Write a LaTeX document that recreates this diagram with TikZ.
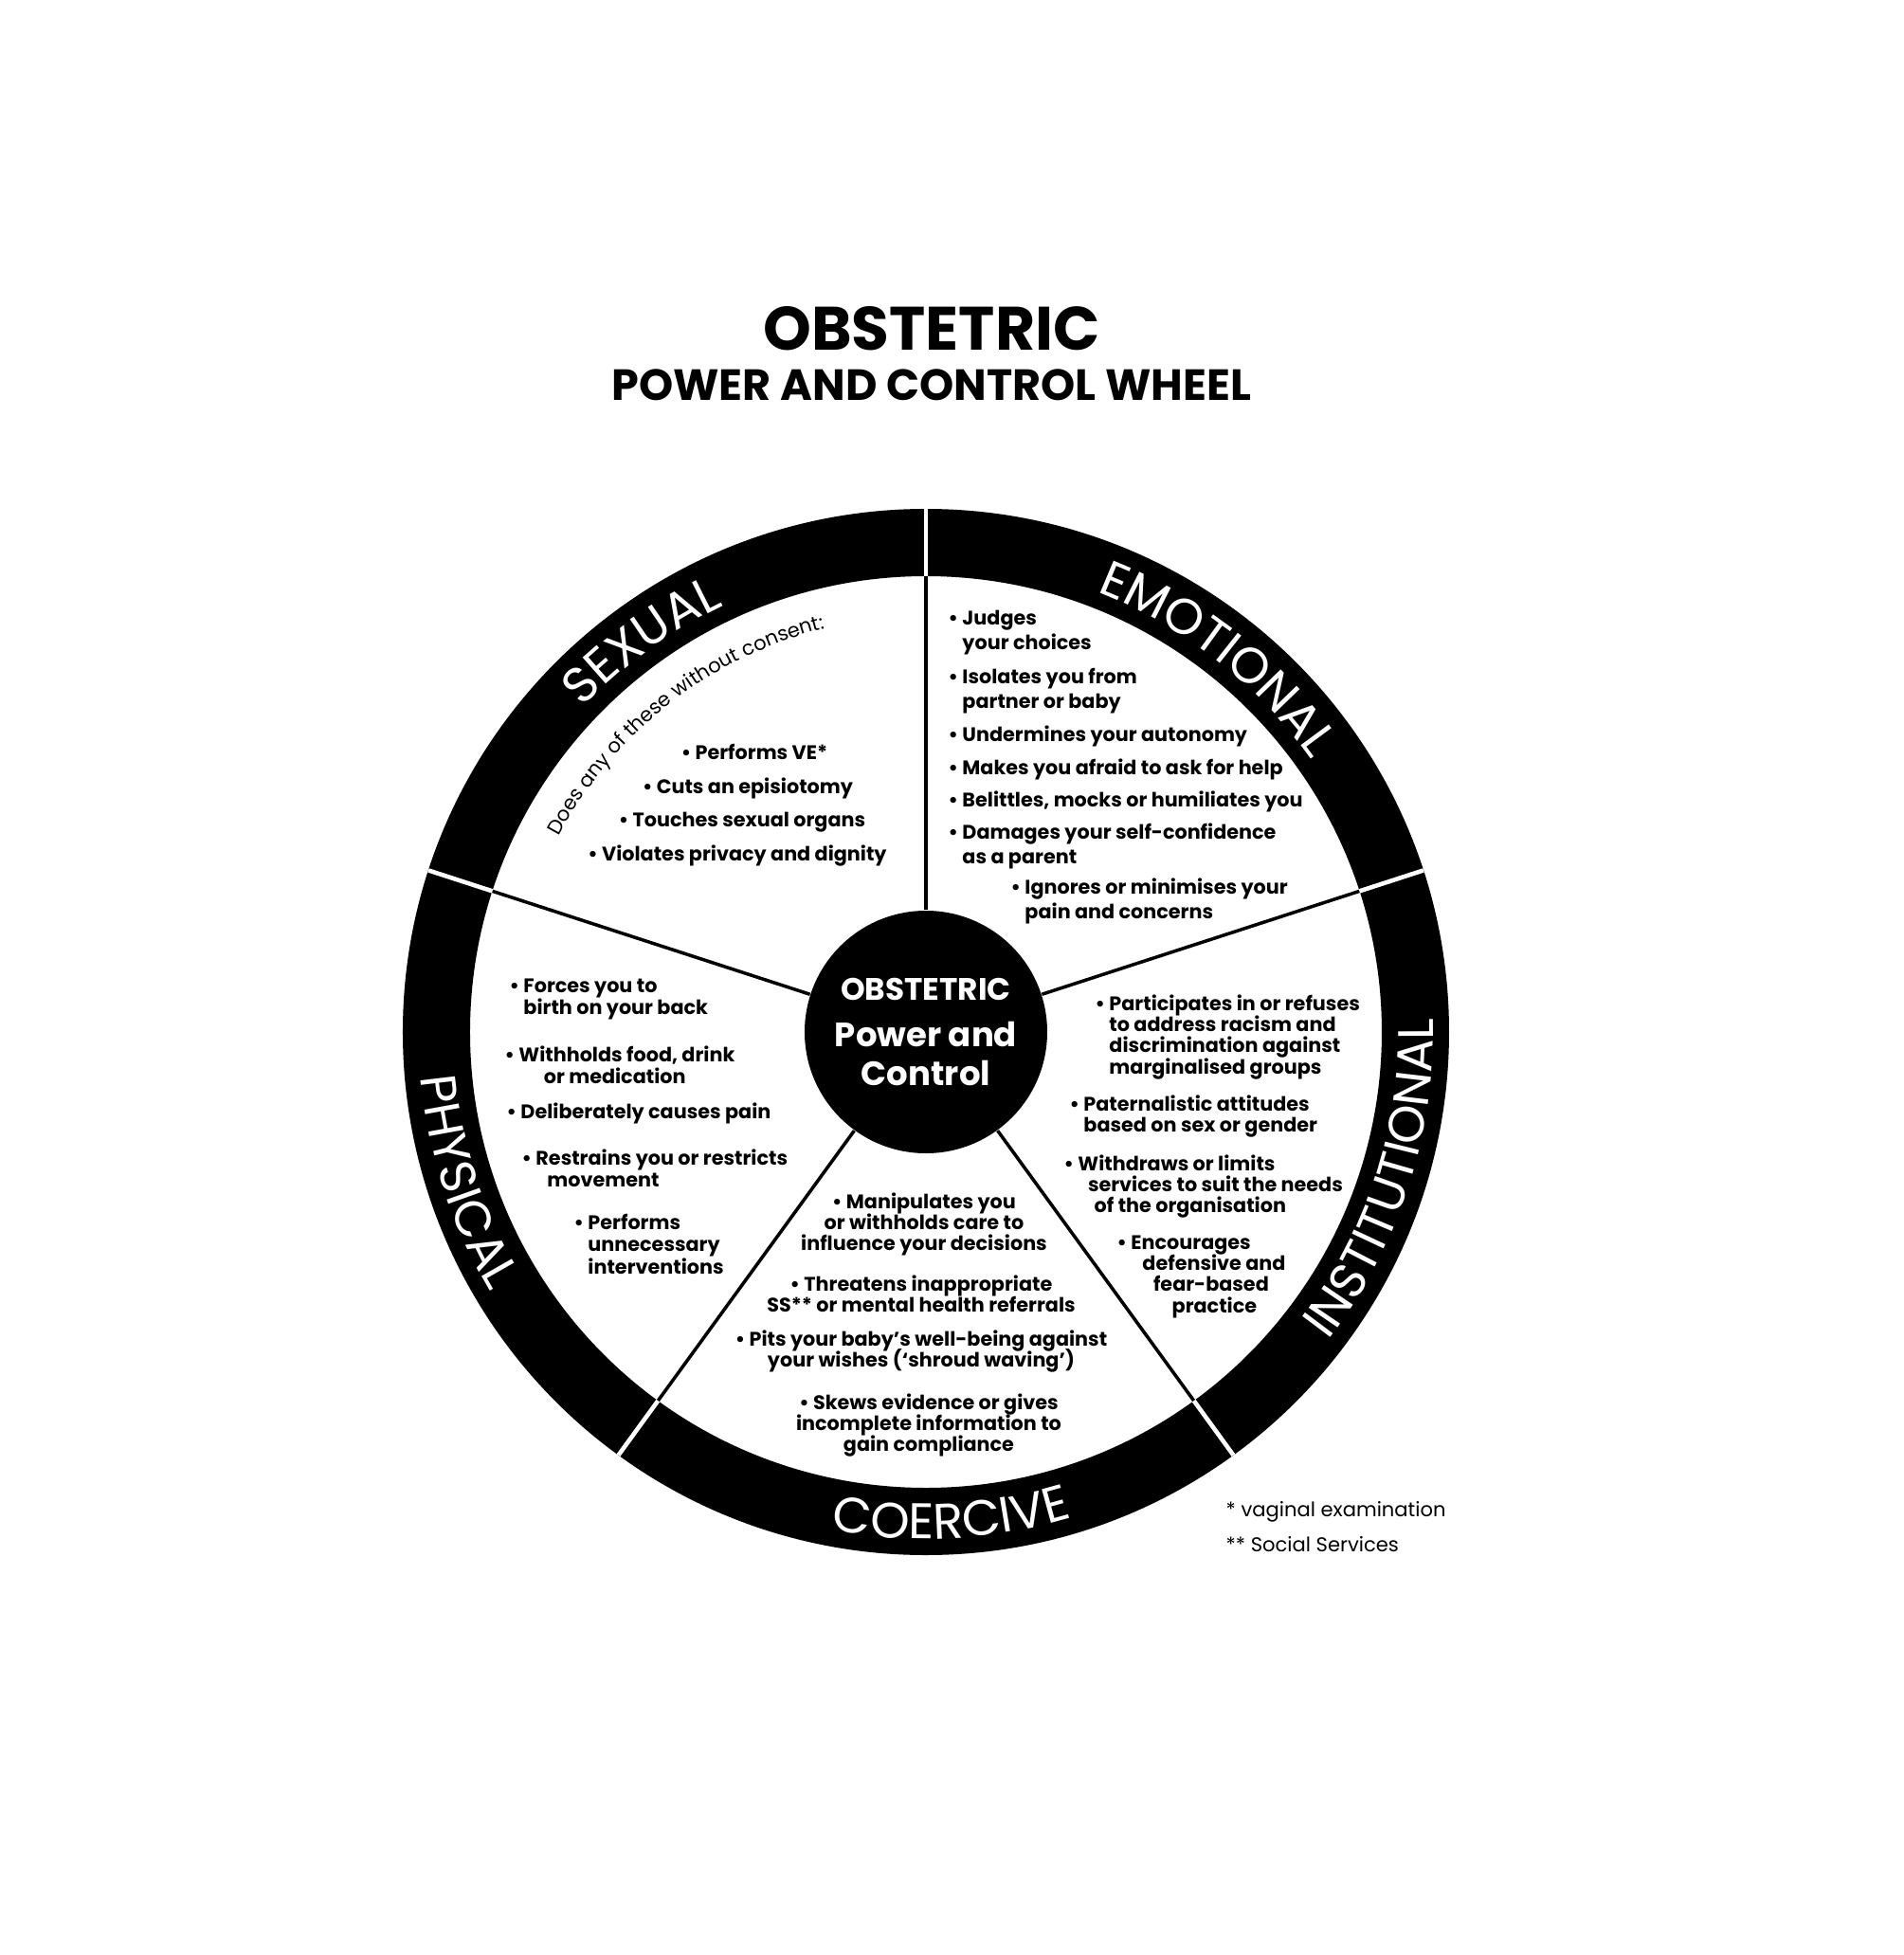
\documentclass[tikz,border=0pt]{standalone}
\usepackage{fontspec}
\setmainfont{Poppins}
\usetikzlibrary{decorations.text}

\newcommand\itemfont[1]{\fontsize{5.9}{#1}\selectfont\bfseries\lineskiplimit=-10pt}
\newcommand\ringfont{\fontsize{15}{15}\selectfont}
\newcommand\bh{\phantom{\textbullet\ }}

\begin{document}
\begin{tikzpicture}[
    item/.style={font=\itemfont{#1},align=left,inner sep=0pt,anchor=base west},
    item/.default=6.4pt,
    itemc/.style={font=\itemfont{#1},align=center,inner sep=0pt,anchor=base},
    itemc/.default=6.4pt,
    foot/.style={font=\fontsize{6}{7}\selectfont,anchor=base west,inner sep=0pt},
    spoke/.style={line width=1pt},
    gap/.style={white,line width=1.3pt},
    ringlabel/.style={decorate,decoration={text along path,text align=center,
        text color=white,text={|\ringfont|#1}}}]

  \def\R{5.52}
  \def\Rin{4.81}
  \def\Rtop{4.98}
  \def\Rbot{5.35}

  \useasboundingbox (-9.77,-9.74) rectangle (10.32,10.89);

  % title
  \node[font=\fontsize{18.4}{19}\selectfont\bfseries,anchor=base] (title) at (0.06,7.19) {OBSTETRIC};
  \node[font=\fontsize{13.1}{14}\selectfont\bfseries,anchor=base] (subtitle) at (0.06,6.67) {POWER AND CONTROL WHEEL};

  % wheel
  \fill[even odd rule] (0,0) circle (\R) (0,0) circle (\Rin);
  \node[circle,fill=black,minimum size=2.56cm,inner sep=0pt,text=white,align=center,
        font=\fontsize{10.1}{11.7}\selectfont\bfseries] (hub) at (0,0)
       {{\fontsize{9.3}{11.7}\selectfont OBSTETRIC}\\[2pt]Power and\\Control};

  \foreach \a in {90,162,234,306,18} {
    \coordinate (in\a) at (\a:\Rin);
    \coordinate (out\a) at (\a:\R);
    \draw[spoke] (hub) -- (in\a);
    \draw[gap] (in\a) -- (out\a);
  }

  \path[ringlabel=SEXUAL] (166:\Rtop) arc[start angle=166,end angle=86,radius=\Rtop];
  \path[ringlabel=EMOTIONAL] (102:\Rtop) arc[start angle=102,end angle=2,radius=\Rtop];
  \path[ringlabel=INSTITUTIONAL] (-68:\Rbot) arc[start angle=-68,end angle=32,radius=\Rbot];
  \path[ringlabel=COERCIVE] (223:\Rbot) arc[start angle=223,end angle=323,radius=\Rbot];
  \path[ringlabel=PHYSICAL] (148:\Rbot) arc[start angle=148,end angle=248,radius=\Rbot];

  \path[decorate,decoration={text along path,text align=center,
      text={|\fontsize{6}{6}\selectfont|Does any of these without consent:}}]
    (163:4.39) arc[start angle=163,end angle=93,radius=4.39];

  % sexual
  \node[itemc] (sex1) at (-1.81,2.88) {\textbullet\ Performs VE*};
  \node[itemc] (sex2) at (-1.88,2.52) {\textbullet\ Cuts an episiotomy};
  \node[itemc] (sex3) at (-1.94,2.17) {\textbullet\ Touches sexual organs};
  \node[itemc] (sex4) at (-1.99,1.81) {\textbullet\ Violates privacy and dignity};

  % emotional (base = last line)
  \node[item=7.47pt] (emo1) at (0.23,4.037) {\textbullet\ Judges\\\bh your choices};
  \node[item=7.47pt] (emo2) at (0.23,3.417) {\textbullet\ Isolates you from\\\bh partner or baby};
  \node[item=7.47pt] (emo3) at (0.23,3.07) {\textbullet\ Undermines your autonomy};
  \node[item=7.47pt] (emo4) at (0.23,2.72) {\textbullet\ Makes you afraid to ask for help};
  \node[item=7.47pt] (emo5) at (0.23,2.38) {\textbullet\ Belittles, mocks or humiliates you};
  \node[item=7.47pt] (emo6) at (0.23,1.777) {\textbullet\ Damages your self-confidence\\\bh as a parent};
  \node[item=7.47pt] (emo7) at (0.89,1.197) {\textbullet\ Ignores or minimises your\\\bh pain and concerns};

  % physical
  \node[item=6.73pt] (phy1) at (-4.40,0.183) {\textbullet\ Forces you to\\\bh birth on your back};
  \node[item=6.73pt] (phy2) at (-4.45,-0.547) {\textbullet\ Withholds food, drink\\\bh\hspace*{7.5pt}or medication};
  \node[item=6.73pt] (phy3) at (-4.43,-0.91) {\textbullet\ Deliberately causes pain};
  \node[item=6.73pt] (phy4) at (-4.27,-1.637) {\textbullet\ Restrains you or restricts\\\bh\hspace*{3.4pt}movement};
  \node[item=6.73pt] (phy5) at (-3.72,-2.554) {\textbullet\ Performs\\\bh unnecessary\\\bh interventions};

  % institutional
  \node[item=6.36pt] (ins1) at (1.78,-0.442) {\textbullet\ Participates in or refuses\\\bh to address racism and\\\bh discrimination against\\\bh marginalised groups};
  \node[item=6.36pt] (ins2) at (1.51,-1.054) {\textbullet\ Paternalistic attitudes\\\bh based on sex or gender};
  \node[item=6.36pt] (ins3) at (1.45,-1.908) {\textbullet\ Withdraws or limits\\\bh\hspace*{3pt}services to suit the needs\\\bh\hspace*{4.9pt}of the organisation};
  \node[item=6.36pt] (ins4) at (2.01,-2.962) {\textbullet\ Encourages\\\bh\hspace*{3.4pt}defensive and\\\bh\hspace*{6.7pt}fear-based\\\bh\hspace*{12.3pt}practice};

  % coercive
  \node[itemc=6.36pt] (coe1) at (-0.02,-2.308) {\textbullet\ Manipulates you\\or withholds care to\\influence your decisions};
  \node[itemc=6.36pt] (coe2) at (-0.05,-2.954) {\textbullet\ Threatens inappropriate\\SS** or mental health referrals};
  \node[itemc=6.36pt] (coe3) at (-0.05,-3.534) {\textbullet\ Pits your baby’s well-being against\\your wishes (‘shroud waving’)};
  \node[itemc=6.36pt] (coe4) at (0.03,-4.428) {\textbullet\ Skews evidence or gives\\incomplete information to\\gain compliance};

  \node[foot] (fn1) at (3.16,-5.11) {* vaginal examination};
  \node[foot] (fn2) at (3.16,-5.48) {** Social Services};

\end{tikzpicture}
\end{document}
